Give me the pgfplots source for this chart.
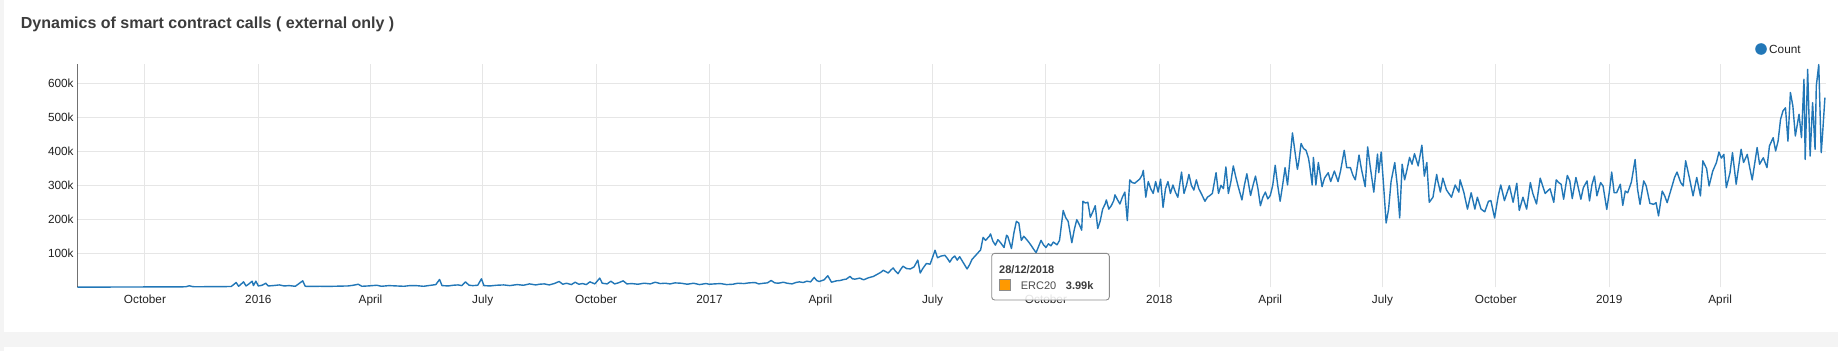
\documentclass[border=0pt]{standalone}
\usepackage{fontspec}
\setmainfont{Liberation Sans}
\usepackage{pgfplots}
\pgfplotsset{compat=1.18}
\definecolor{lineblue}{RGB}{34,119,183}
\definecolor{gridgray}{RGB}{230,230,230}
\definecolor{bggray}{RGB}{244,244,244}
\definecolor{titlegray}{RGB}{60,60,60}
\definecolor{labelgray}{RGB}{34,34,34}
\definecolor{tiporange}{RGB}{255,153,0}
\begin{document}
\begin{tikzpicture}[x=1bp,y=1bp]
\useasboundingbox (0,0) rectangle (1838,351);
\fill[white] (0,0) rectangle (1838,351);
\fill[bggray] (0,0) rectangle (3.5,351);
\fill[bggray] (0,4) rectangle (1838,19);
\node[anchor=base west, inner sep=0pt, text=titlegray, font=\fontsize{16bp}{19bp}\selectfont\bfseries] at (20.7,322.7) {Dynamics of smart contract calls ( external only )};
\begin{axis}[
  at={(77.3bp,63.7bp)}, anchor=south west,
  scale only axis, width=1748.7bp, height=223.3bp,
  xmin=-54.9, xmax=1363.9, ymin=0, ymax=656.8,
  axis line style={draw=none},
  major tick length=0pt,
  grid=major,
  major grid style={draw=gridgray, line width=1bp},
  xtick={0,92,183,274,366,458,548,639,731,823,913,1004,1096,1188,1278},
  xticklabels={October,2016,April,July,October,2017,April,July,October,2018,April,July,October,2019,April},
  ytick={100,200,300,400,500,600},
  yticklabels={100k,200k,300k,400k,500k,600k},
  tick label style={font=\fontsize{11.8bp}{14bp}\selectfont, text=labelgray},
  xticklabel style={anchor=base, inner sep=0pt, yshift=-16.5bp},
  yticklabel style={anchor=east, inner sep=0pt, xshift=-3.5bp},
  /pgf/number format/assume math mode=true,
  clip=true,
]
\addplot[color=lineblue, line width=1.4bp, line join=round] coordinates {
(-55,0.3)(-45,0.5)(-35,0.6)(-25,0.8)(-15,0.8)(-5,1.0)(5,1.1)(15,1.2)(25,1.4)(33,1.5)
(36,4.5)(39,1.8)(45,1.6)(52,2.0)(58,2.2)(64,2.0)(70,2.5)(74,14)(76,3)(80,16)
(82,4)(84,9)(87,18)(88,5)(90,18)(92,4)(95,6)(98,12)(100,4)(104,5)
(109,7)(113,4)(117,5)(122,3)(128,19)(130,3)(136,2.5)(142,3)(147,2.5)(153,3)
(159,3.5)(165,4)(169,6)(173,9)(176,3)(181,4)(188,6)(192,3)(198,5)(204,4)
(210,3)(215,5)(220,5)(226,3)(232,6)(236,8)(239,23)(241,5)(246,4)(250,6)
(254,7)(257,5)(260,16)(263,6)(266,5)(270,6)(273,25)(275,5)(280,4)(285,6)
(291,7)(296,5)(302,8)(307,6)(312,10)(317,7)(320,9)(324,10)(328,7)(332,11)
(336,17)(339,9)(342,12)(346,8)(349,15)(352,9)(355,11)(358,8)(361,16)(365,10)
(369,27)(371,12)(375,10)(378,18)(381,10)(384,13)(388,19)(391,10)(395,11)(400,9)
(405,12)(410,10)(414,15)(418,11)(422,12)(426,10)(430,13)(435,12)(440,9)(445,12)
(450,8)(455,11)(458,9)(462,10)(467,11)(472,8)(477,9)(481,12)(486,11)(490,13)
(495,14)(498,10)(502,12)(505,13)(508,20)(511,13)(514,12)(518,15)(521,12)(525,10)
(528,14)(531,16)(534,14)(537,18)(540,16)(543,29)(545,20)(547,17)(551,22)(554,34)
(557,15)(561,19)(564,20)(567,23)(569,24)(572,32)(574,25)(576,24)(580,27)(583,22)
(587,28)(591,32)(594,38)(597,44)(599,50)(601,46)(603,42)(605,50)(607,57)(609,47)
(611,40)(613,52)(615,62)(618,55)(621,54)(624,60)(627,80)(629,42)(631,55)(634,70)
(637,68)(639,88)(641,109)(643,87)(646,92)(649,94)(651,85)(653,74)(655,86)(657,92)
(659,80)(661,90)(664,72)(667,54)(669,66)(671,82)(673,90)(676,102)(678,110)(680,147)
(682,138)(683,142)(685,150)(686,157)(688,135)(690,124)(692,140)(694,132)(697,117)(699,153)
(700,150)(703,114)(705,160)(707,194)(709,189)(711,138)(713,150)(715,142)(717,133)(719,123)
(721,112)(723,102)(725,120)(727,138)(729,125)(731,117)(733,128)(735,122)(737,133)(740,125)
(742,138)(745,226)(747,205)(749,194)(752,131)(754,170)(756,199)(758,185)(760,168)(761,253)
(763,248)(765,250)(767,206)(769,222)(771,240)(773,173)(775,195)(777,230)(779,245)(780,257)
(782,230)(784,240)(786,255)(787,272)(789,258)(791,245)(793,265)(795,280)(797,196)(799,316)
(801,308)(803,306)(805,312)(807,318)(809,330)(810,344)(812,265)(814,311)(816,290)(818,276)
(820,311)(822,280)(824,318)(826,235)(828,290)(830,311)(832,276)(834,301)(836,280)(838,265)
(841,339)(843,276)(845,300)(847,332)(849,300)(851,286)(853,316)(855,290)(857,276)(860,253)
(862,265)(864,270)(866,276)(869,337)(871,276)(873,300)(875,290)(877,354)(879,276)(881,310)
(883,357)(885,325)(887,296)(890,257)(892,300)(894,334)(897,270)(899,300)(901,327)(903,290)
(905,240)(907,265)(909,280)(911,260)(913,270)(915,300)(917,359)(919,300)(921,253)(923,300)
(925,352)(927,301)(929,377)(931,454)(933,400)(935,347)(936,367)(938,423)(940,408)(942,403)
(944,380)(945,357)(947,301)(948,382)(950,301)(952,367)(955,296)(957,321)(960,337)(962,311)
(965,342)(968,311)(970,342)(973,403)(975,352)(978,352)(980,330)(982,316)(985,389)(987,347)
(990,296)(992,413)(994,357)(997,280)(1000,392)(1001,337)(1003,398)(1005,296)(1007,189)(1009,230)
(1011,311)(1014,367)(1016,301)(1018,204)(1020,362)(1022,316)(1024,347)(1026,382)(1028,362)(1030,393)
(1033,357)(1036,418)(1038,327)(1040,367)(1042,250)(1045,265)(1048,332)(1049,311)(1051,280)(1053,321)
(1056,286)(1060,265)(1063,301)(1066,280)(1067,316)(1070,280)(1073,230)(1076,278)(1079,230)(1081,265)
(1084,230)(1087,222)(1090,253)(1092,255)(1095,204)(1098,270)(1100,301)(1103,255)(1107,299)(1110,250)
(1113,306)(1115,226)(1118,265)(1121,230)(1124,308)(1126,276)(1129,245)(1132,321)(1136,276)(1140,290)
(1143,250)(1145,316)(1147,308)(1149,303)(1151,259)(1154,329)(1156,313)(1158,261)(1161,323)(1165,259)
(1167,293)(1170,313)(1172,254)(1174,302)(1176,327)(1178,269)(1181,308)(1183,298)(1186,229)(1188,278)
(1190,339)(1192,278)(1194,278)(1197,303)(1199,241)(1201,283)(1203,278)(1206,310)(1209,376)(1211,288)
(1213,244)(1216,313)(1218,298)(1221,247)(1224,244)(1226,249)(1228,210)(1231,283)(1233,269)(1235,249)
(1239,298)(1241,323)(1243,339)(1246,308)(1248,298)(1250,372)(1253,323)(1256,269)(1259,323)(1262,269)
(1264,372)(1267,349)(1269,298)(1272,342)(1275,367)(1277,398)(1279,380)(1281,391)(1283,293)(1286,337)
(1288,396)(1291,303)(1295,406)(1297,367)(1300,391)(1302,352)(1304,316)(1308,411)(1310,362)(1313,381)
(1316,352)(1318,416)(1321,440)(1323,401)(1325,430)(1327,494)(1329,519)(1331,528)(1333,430)(1335,573)
(1337,533)(1339,445)(1342,509)(1344,440)(1346,612)(1347,376)(1349,641)(1351,386)(1353,543)(1355,406)
(1356,592)(1358,655)(1360,396)(1361,445)(1363,558)
};
\draw[line width=1bp, color=black!85] (rel axis cs:0,0) -- (rel axis cs:0,1);
\end{axis}
% legend
\fill[lineblue] (1761,302) circle (5.8);
\node[anchor=west, inner sep=0pt, text=labelgray, font=\fontsize{11.8bp}{14bp}\selectfont] at (1769,302) {Count};
% tooltip
\draw[rounded corners=3bp, draw=black!45, line width=0.9bp, fill=white, fill opacity=0.88] (991.7,51) rectangle (1109.3,97.7);
\node[anchor=base west, inner sep=0pt, text=titlegray, font=\fontsize{11bp}{13bp}\selectfont\bfseries] at (999,77.7) {28/12/2018};
\fill[tiporange, draw=black!45, line width=0.6bp] (999.3,60.3) rectangle (1010.7,71.7);
\node[anchor=base west, inner sep=0pt, text=black!70, font=\fontsize{11bp}{13bp}\selectfont] at (1020.7,62) {ERC20};
\node[anchor=base west, inner sep=0pt, text=titlegray, font=\fontsize{11bp}{13bp}\selectfont\bfseries] at (1065.7,62) {3.99k};
\end{tikzpicture}
\end{document}
